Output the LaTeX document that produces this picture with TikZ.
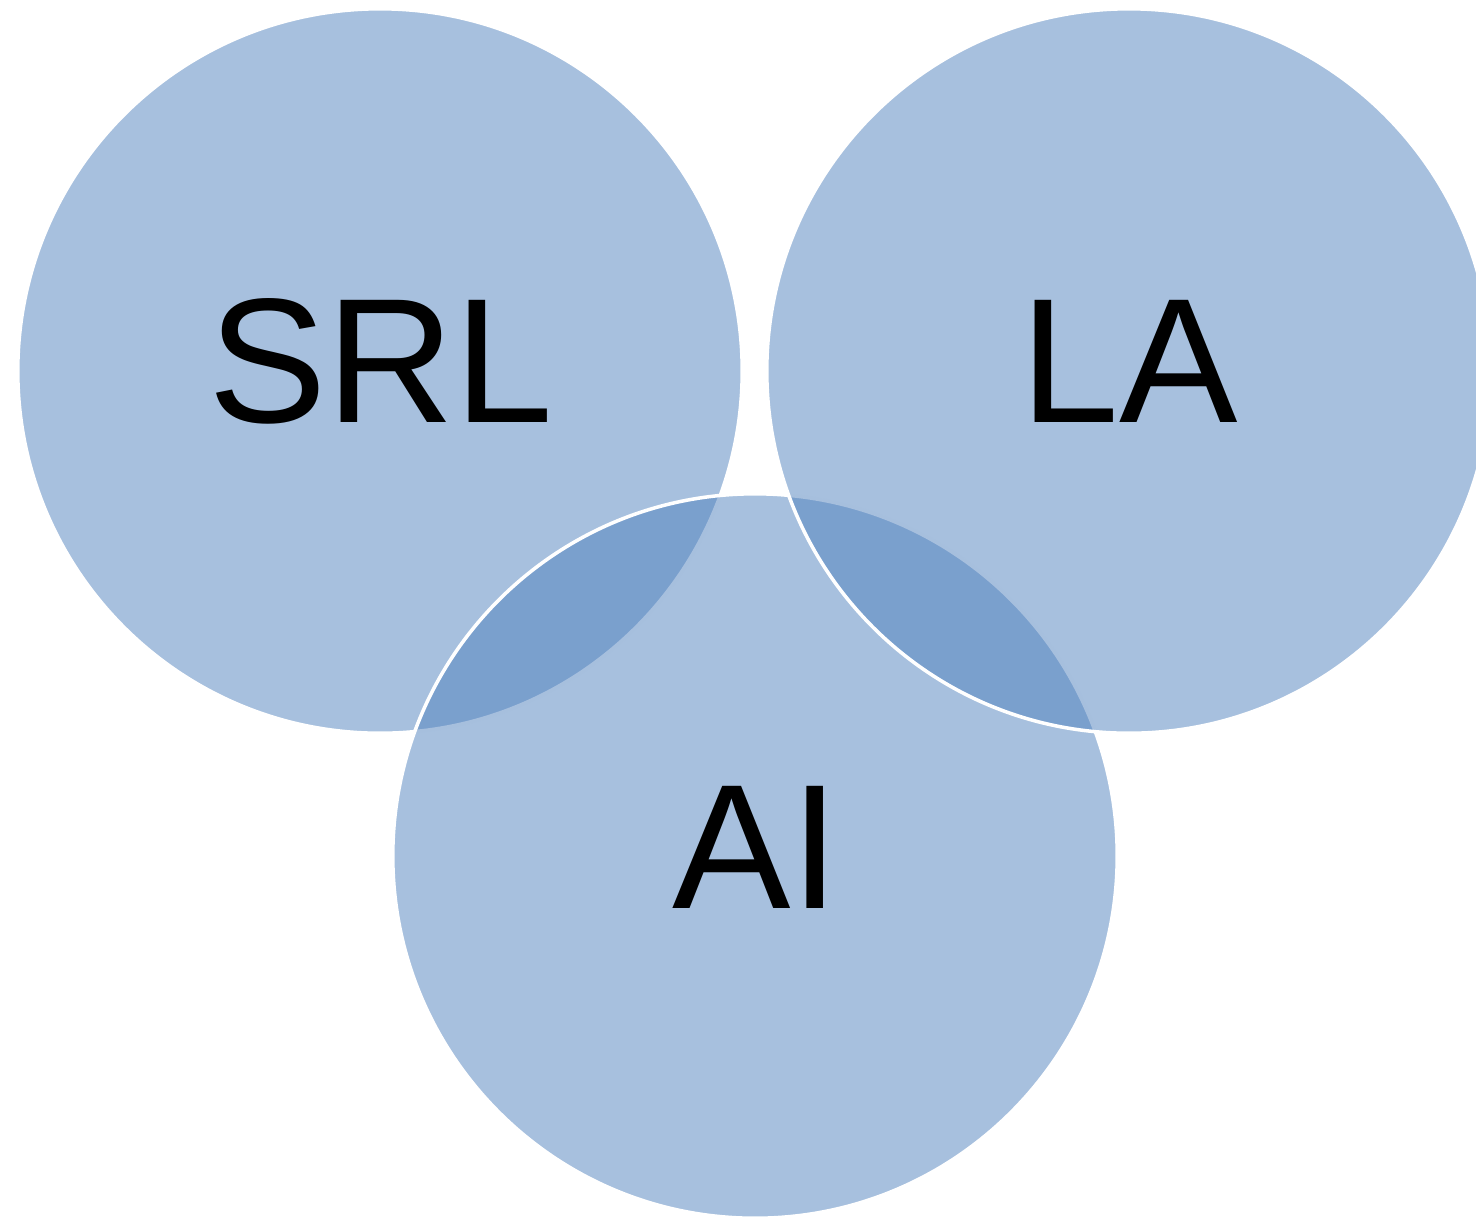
\documentclass[tikz,border=0pt]{standalone}
\usepackage{fontspec}
\setmainfont{Liberation Sans}
\definecolor{vblue}{HTML}{4F81BD}
\begin{document}
\begin{tikzpicture}[x=0.01cm,y=-0.01cm,
  venn/.style={circle,minimum size=7.24cm,inner sep=0pt,fill=vblue,fill opacity=0.5,draw=white,draw opacity=1,line width=1pt},
  lbl/.style={font=\fontsize{50.5}{60}\selectfont,text=black,inner sep=0pt}]
\useasboundingbox (0,0) rectangle (1476,1217);
\clip (0,0) rectangle (1476,1217);
\node[venn] (srl) at (380,371) {};
\node[venn] (ai) at (755,856) {};
\node[venn] (la) at (1129,371) {};
\node[lbl] (tsrl) at (381,361) {SRL};
\node[lbl] (tla) at (1129,361) {LA};
\node[lbl] (tai) at (756,847) {AI};
\end{tikzpicture}
\end{document}
